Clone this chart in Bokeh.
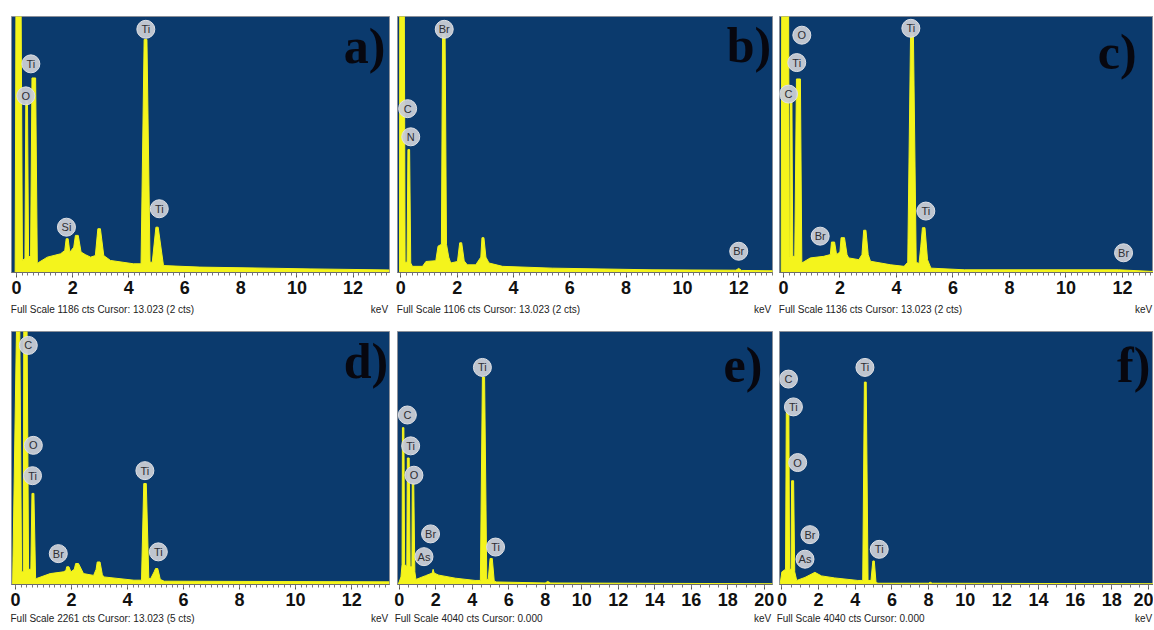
from bokeh.plotting import figure
from bokeh.models import Range1d, SingleIntervalTicker, FixedTicker, LinearAxis
from bokeh.layouts import column, row
from bokeh.embed import file_html
from bokeh.resources import INLINE
from bokeh.core.properties import value

# ---------------- data (energy in keV, intensity in % of full scale) ----------------
a_kev = [-0.05, -0.02, 0.16, 0.21, 0.30, 0.33, 0.39, 0.43, 0.50, 0.55, 0.68, 0.74, 0.80, 1.10, 1.57, 1.72,
         1.77, 1.84, 1.90, 2.04, 2.10, 2.20, 2.30, 2.45, 2.64, 2.81, 2.90, 2.99, 3.11, 3.35, 4.17, 4.44,
         4.55, 4.65, 4.76, 4.84, 4.97, 5.05, 5.24, 6.54, 8.90, 10.5, 13.3]
a_pct = [0, 110, 110, 4.7, 5.5, 67, 67, 6.0, 6.5, 76, 76, 3.4, 4.0, 6.0, 7.3, 8.6,
         13.2, 13.2, 7.9, 9.9, 14.5, 14.5, 8.0, 7.0, 6.0, 6.6, 17.1, 17.1, 6.6, 4.7, 3.4, 3.4,
         91, 91, 4.0, 4.0, 17.7, 17.7, 2.7, 2.1, 1.7, 1.4, 1.0]
a_tags = ["Ti", "Ti", "O", "Si", "Ti"]
a_tag_kev = [4.61, 0.51, 0.33, 1.78, 5.09]
a_tag_pct = [95, 81.5, 69, 17.7, 24.9]

b_kev = [-0.05, -0.04, 0.12, 0.15, 0.22, 0.25, 0.31, 0.35, 0.41, 0.77, 0.89, 1.24, 1.32, 1.44, 1.48, 1.57,
         1.62, 1.70, 1.77, 2.01, 2.09, 2.16, 2.25, 2.36, 2.66, 2.84, 2.88, 2.95, 3.02, 3.13, 3.61, 5.38,
         8.92, 11.9, 12.0, 12.1, 13.3]
b_pct = [0, 110, 110, 4, 4, 48, 48, 3.7, 2.4, 2.4, 4.3, 4.6, 10.3, 11, 93, 93,
         11, 6, 3.7, 4.3, 11.6, 11.6, 4.5, 3.0, 3.0, 6, 13.6, 13.6, 6, 3.7, 2.4, 1.7,
         1.05, 0.9, 1.6, 0.8, 0.66]
b_tags = ["Br", "C", "N", "Br"]
b_tag_kev = [1.54, 0.24, 0.35, 12.0]
b_tag_pct = [95, 64, 53, 8.3]

c_kev = [-0.08, -0.06, 0.18, 0.21, 0.23, 0.25, 0.30, 0.33, 0.40, 0.46, 0.60, 0.65, 0.95, 1.42, 1.66, 1.70,
         1.81, 1.88, 2.00, 2.04, 2.16, 2.25, 2.31, 2.67, 2.78, 2.84, 2.92, 3.00, 3.08, 3.80, 4.27, 4.40,
         4.50, 4.60, 4.70, 4.80, 4.86, 4.92, 5.01, 5.10, 5.22, 6.41, 11.86, 13.1]
c_pct = [0, 110, 110, 6.3, 6.3, 67, 67, 6.3, 6.3, 75.6, 75.6, 3.7, 5.7, 6.3, 7, 11.9,
         11.9, 7, 8, 13.6, 13.6, 7, 5.7, 5.0, 7, 16.5, 16.5, 7, 4.4, 3.0, 2.4, 4,
         93.4, 93.4, 4, 3.5, 10, 17.5, 17.5, 5, 1.7, 1.05, 1.05, 0.4]
c_tags = ["O", "Ti", "C", "Ti", "Br", "Ti", "Br"]
c_tag_kev = [0.65, 0.47, 0.18, 4.51, 1.30, 5.04, 12.04]
c_tag_pct = [92.7, 82, 69.7, 95.4, 14.2, 24, 7.7]

d_kev = [-0.10, 0.05, 0.15, 0.22, 0.28, 0.30, 0.41, 0.47, 0.55, 0.59, 0.66, 0.72, 0.76, 1.24, 1.71, 1.80,
         1.83, 1.91, 1.98, 2.10, 2.15, 2.25, 2.43, 2.79, 2.88, 2.92, 3.02, 3.10, 3.15, 4.23, 4.50, 4.58,
         4.67, 4.76, 4.83, 4.95, 5.00, 5.08, 5.17, 5.31, 13.35]
d_pct = [0, 110, 110, 5, 5, 110, 110, 6, 6, 36, 36, 2.4, 2.4, 4.3, 5, 5.5,
         7, 7, 5, 6, 8.3, 8.3, 4.3, 3.6, 6, 8.9, 8.9, 4, 3.0, 1.7, 1.7, 39.9,
         39.9, 2.4, 2.4, 5, 6.3, 6.3, 2.0, 1.3, 1.05]
d_tags = ["C", "O", "Ti", "Ti", "Br", "Ti"]
d_tag_kev = [0.46, 0.64, 0.61, 4.62, 1.53, 5.10]
d_tag_pct = [94.5, 55, 43, 45, 12.2, 12.9]

e_kev = [-0.05, 0.10, 0.16, 0.18, 0.26, 0.30, 0.42, 0.45, 0.55, 0.60, 0.70, 0.72, 0.80, 0.86, 0.92, 1.45,
         1.81, 1.86, 1.92, 2.17, 3.08, 4.16, 4.45, 4.56, 4.68, 4.80, 4.88, 4.98, 5.10, 5.21, 5.34, 8.00,
         8.14, 8.30, 20.45]
e_pct = [0, 3, 8, 62, 62, 8, 7, 50, 50, 7, 7, 40, 40, 5, 2, 3.5,
         4.5, 6, 4.5, 3.7, 2.5, 1.6, 1.6, 82, 82, 2, 2, 10.3, 10.3, 1.3, 1.0, 0.6,
         1.2, 0.6, 0.3]
e_tags = ["Ti", "C", "Ti", "O", "Br", "As", "Ti"]
e_tag_kev = [4.56, 0.45, 0.63, 0.81, 1.72, 1.36, 5.28]
e_tag_pct = [85.8, 67, 54.8, 43.2, 20, 11, 14.8]

f_kev = [-0.10, 0.00, 0.20, 0.24, 0.38, 0.42, 0.50, 0.53, 0.64, 0.70, 0.81, 1.26, 1.80, 2.16, 2.88, 4.14,
         4.41, 4.50, 4.60, 4.70, 4.86, 4.96, 5.04, 5.13, 5.22, 8.00, 8.09, 8.20, 20.27]
f_pct = [0, 5, 6, 68, 68, 6, 6, 41, 41, 5, 1.6, 2.8, 4.8, 3.4, 2.6, 1.6,
         1.6, 80, 80, 1.6, 1.6, 9.3, 9.3, 1.2, 0.5, 0.5, 0.9, 0.5, 0.3]
f_tags = ["Ti", "C", "Ti", "O", "Br", "As", "Ti"]
f_tag_kev = [4.53, 0.36, 0.63, 0.86, 1.53, 1.26, 5.31]
f_tag_pct = [85.8, 81.2, 70.2, 48.2, 19.7, 10, 13.9]

footers = ["Full Scale 1186 cts Cursor: 13.023  (2 cts)",
           "Full Scale 1106 cts Cursor: 13.023  (2 cts)",
           "Full Scale 1136 cts Cursor: 13.023  (2 cts)",
           "Full Scale 2261 cts Cursor: 13.023  (5 cts)",
           "Full Scale 4040 cts Cursor: 0.000",
           "Full Scale 4040 cts Cursor: 0.000"]
letters = ["a)", "b)", "c)", "d)", "e)", "f)"]
unit = "keV"

# ---------------- styling ----------------
BLUE = "#0b3a6d"
YEL = "#f4f41c"
TAG_FILL = "#c9ccd5"
SANS = "Liberation Sans"


def panel(kev, pct, tags, tag_kev, tag_pct, letter, letter_xy, footer, xr, minor,
          width, height, left, right, top, bottom, foot_gap):
    p = figure(width=width, height=height, output_backend="svg", toolbar_location=None,
               x_range=Range1d(*xr), y_range=Range1d(0, 100), y_axis_location=None,
               min_border_left=left, min_border_right=right, min_border_top=top,
               min_border_bottom=bottom)
    p.background_fill_color = BLUE
    p.border_fill_color = "white"
    p.outline_line_color = "#8a8f99"
    p.grid.visible = False

    p.varea(x=kev, y1=0, y2=pct, fill_color=YEL)
    p.line(kev, pct, line_color=YEL, line_width=1)

    p.scatter(tag_kev, tag_pct, size=18, fill_color=TAG_FILL, line_color="#dfe1e6",
              line_width=1, fill_alpha=0.95)
    p.text(tag_kev, tag_pct, text=tags, text_font=value(SANS), text_font_size="11px",
           text_color="#2e2e33", text_align="center", text_baseline="middle")

    p.text([letter_xy[0]], [letter_xy[1]], text=[letter], text_font=value("Liberation Serif"),
           text_font_style="bold", text_font_size="50px", text_color="#07070f",
           text_align="right", text_baseline="top")

    ax = p.xaxis[0]
    ax.ticker = SingleIntervalTicker(interval=2, num_minor_ticks=minor)
    ax.axis_line_color = "#6b6b6b"
    ax.major_tick_line_color = "#555555"
    ax.minor_tick_line_color = "#777777"
    ax.major_tick_in = 0
    ax.major_tick_out = 5
    ax.minor_tick_in = 0
    ax.minor_tick_out = 3
    ax.major_label_text_font = SANS
    ax.major_label_text_font_style = "bold"
    ax.major_label_text_font_size = "18px"
    ax.major_label_text_color = "#111111"
    ax.major_label_standoff = 3

    # footer line: status text on the left, unit on the right (labels of a tickless axis)
    frame_px = width - left - right
    px_per_kev = frame_px / (xr[1] - xr[0])
    foot_w = len(footer) * 4.25
    fx = round(xr[0] + (foot_w / 2 + 1) / px_per_kev, 3)
    kx = round(xr[1] - 10 / px_per_kev, 3)
    foot = LinearAxis(ticker=FixedTicker(ticks=[fx, kx]),
                      major_label_overrides={fx: footer, kx: unit},
                      axis_line_color=None, major_tick_line_color=None,
                      minor_tick_line_color=None, major_tick_out=0, minor_tick_out=0,
                      major_label_standoff=foot_gap, major_label_text_font=SANS,
                      major_label_text_font_size="10px", major_label_text_color="#222222")
    p.add_layout(foot, "below")
    return p


pa = panel(a_kev, a_pct, a_tags, a_tag_kev, a_tag_pct, letters[0], (13.15, 99.5), footers[0],
           (-0.18, 13.3), 10, 393, 323, 11, 4, 16, 51, 7)
pb = panel(b_kev, b_pct, b_tags, b_tag_kev, b_tag_pct, letters[1], (13.15, 100), footers[1],
           (-0.12, 13.2), 10, 382, 323, 4, 3, 16, 51, 7)
pc = panel(c_kev, c_pct, c_tags, c_tag_kev, c_tag_pct, letters[2], (12.5, 97), footers[2],
           (-0.14, 13.1), 10, 378, 323, 4, 0, 16, 51, 7)
pd = panel(d_kev, d_pct, d_tags, d_tag_kev, d_tag_pct, letters[3], (13.3, 99.5), footers[3],
           (-0.14, 13.35), 10, 393, 306, 11, 4, 8, 45, 4)
pe = panel(e_kev, e_pct, e_tags, e_tag_kev, e_tag_pct, letters[4], (19.9, 98), footers[4],
           (-0.09, 20.45), 4, 382, 306, 4, 3, 8, 45, 4)
pf = panel(f_kev, f_pct, f_tags, f_tag_kev, f_tag_pct, letters[5], (20.1, 98), footers[5],
           (-0.13, 20.27), 4, 378, 306, 4, 0, 8, 45, 4)

layout = column(row(pa, pb, pc), row(pd, pe, pf))
open("out.html", "w").write(file_html(layout, INLINE))
